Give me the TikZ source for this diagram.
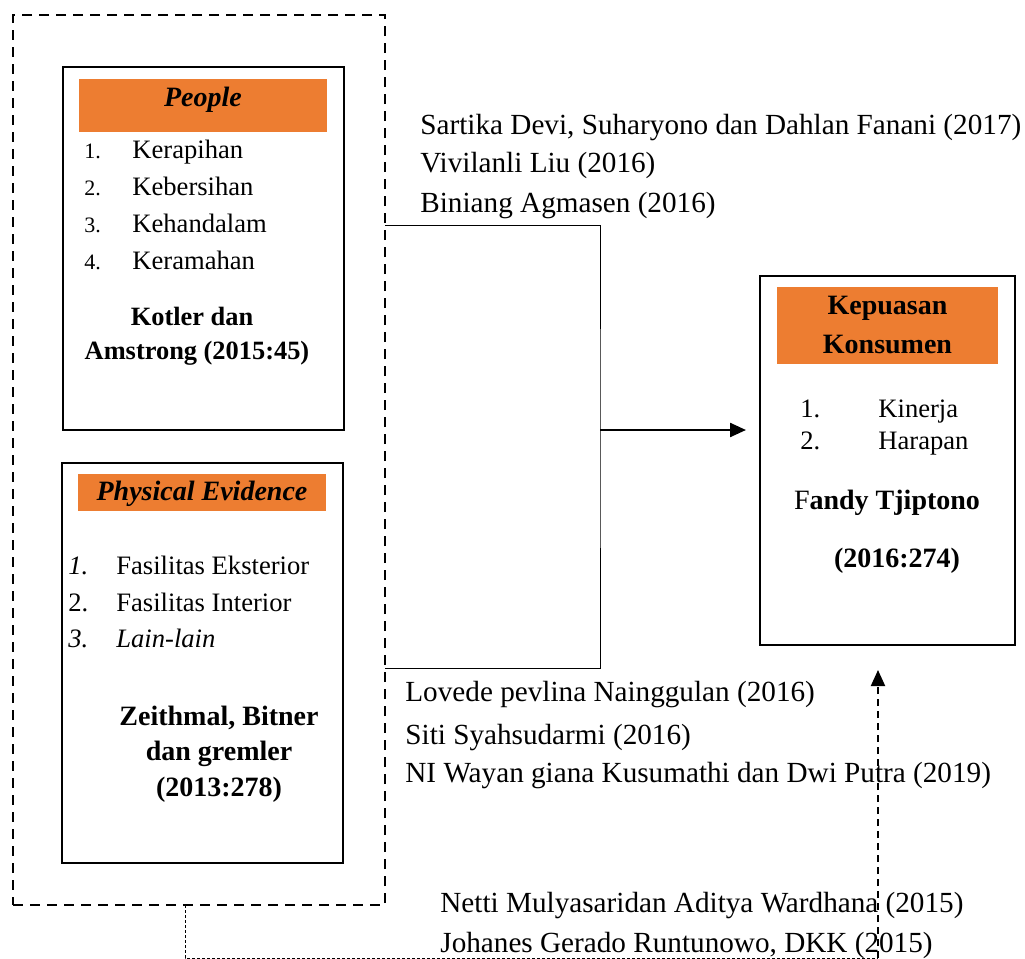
\documentclass[tikz,border=0pt]{standalone}
\usepackage{fontspec}
\setmainfont{Liberation Serif}
\usetikzlibrary{positioning, arrows.meta}
\definecolor{hdrorange}{HTML}{ED7D31}

\begin{document}
\begin{tikzpicture}[x=0.5pt, y=-0.5pt, >={Triangle[length=8pt, width=7pt]}, font=\fontsize{13.3}{15}\selectfont]
        \tikzstyle{box} = [rectangle, draw=black, line width=1pt, inner sep=0pt]
        \tikzstyle{header} = [rectangle, fill=hdrorange, inner sep=0pt]
        \tikzstyle{hdrtext} = [inner sep=0pt, yshift=-1.5pt, font=\fontsize{14}{18}\selectfont\bfseries]
        \tikzstyle{item} = [anchor=west, inner sep=0pt, yshift=-2.5pt, text height=0.69em, text depth=0.22em]
        \tikzstyle{num} = [item, font=\fontsize{11}{13}\selectfont]
        \tikzstyle{src} = [inner sep=0pt, yshift=-1.5pt, font=\fontsize{14}{16}\selectfont\bfseries]
        \tikzstyle{ref} = [item, font=\fontsize{14.6}{16}\selectfont]
        \tikzstyle{group} = [rectangle, draw=black, line width=1pt, dash pattern=on 5pt off 3.5pt, inner sep=0pt]

        \useasboundingbox (0,0) rectangle (1025,959);

        % variabel X
        \node [group, minimum width=186pt, minimum height=445pt] (grp) at (199,460) {};

        \node [box, minimum width=140.5pt, minimum height=181.5pt] (people) at (203.5,248.5) {};
        \node [header, minimum width=124pt, minimum height=26.5pt] (peoplehdr) at (203,105.5) {};
        \node [hdrtext] at (203,97) {\textit{People}};
        \node [num] at (84,149) {1.};  \node [item] at (132,149) {Kerapihan};
        \node [num] at (84,186) {2.};  \node [item] at (132,186) {Kebersihan};
        \node [num] at (84,223) {3.};  \node [item] at (132,223) {Kehandalam};
        \node [num] at (84,260) {4.};  \node [item] at (132,260) {Keramahan};
        \node [src, font=\fontsize{13.2}{16}\selectfont\bfseries] at (192,313) {Kotler dan};
        \node [src, font=\fontsize{13.2}{16}\selectfont\bfseries] at (197,350) {Amstrong (2015:45)};

        \node [box, minimum width=140.5pt, minimum height=200pt] (physical) at (202.5,663) {};
        \node [header, minimum width=124pt, minimum height=18.5pt] (physicalhdr) at (202,492.5) {};
        \node [hdrtext] at (202,491) {\textit{Physical Evidence}};
        \node [item] at (68,565) {\textit{1.}};  \node [item] at (116,565) {Fasilitas Eksterior};
        \node [item] at (68,602) {2.};           \node [item] at (116,602) {Fasilitas Interior};
        \node [item] at (68,638) {\textit{3.}};  \node [item] at (116,638) {\textit{Lain-lain}};
        \node [src] at (219,715) {Zeithmal, Bitner};
        \node [src] at (219,751) {dan gremler};
        \node [src] at (219,787) {(2013:278)};

        % variabel Y
        \node [box, minimum width=127.5pt, minimum height=184.5pt] (kepuasan) at (887.5,460.5) {};
        \node [header, minimum width=110.5pt, minimum height=38.5pt] (kepuasanhdr) at (887.5,325.5) {};
        \node [hdrtext] at (887.5,305) {Kepuasan};
        \node [hdrtext] at (887.5,342) {Konsumen};
        \node [item] at (800,408) {1.};  \node [item] at (878,408) {Kinerja};
        \node [item] at (800,440) {2.};  \node [item] at (878,440) {Harapan};
        \node [src] at (887,500) {\textmd{F}andy Tjiptono};
        \node [src] at (897,558) {(2016:274)};

        % penelitian terdahulu
        \node [ref] at (420,125) {Sartika Devi, Suharyono dan Dahlan Fanani (2017)};
        \node [ref] at (420,163) {Vivilanli Liu (2016)};
        \node [ref] at (420,203) {Biniang Agmasen (2016)};
        \node [ref] at (405,692) {Lovede pevlina Nainggulan (2016)};
        \node [ref] at (405,735) {Siti Syahsudarmi (2016)};
        \node [ref] at (405,773) {NI Wayan giana Kusumathi dan Dwi Putra (2019)};
        \node [ref] at (440,903) {Netti Mulyasaridan Aditya Wardhana (2015)};
        \node [ref] at (440,943) {Johanes Gerado Runtunowo, DKK (2015)};

        \coordinate (bra) at (385,225);
        \coordinate (brb) at (385,668);
        \coordinate (brc) at (600,430);
        \coordinate (grpfoot) at (185,905);
        \coordinate (yfoot) at (878,958);

        \draw [line width=0.5pt] (bra) -| (brc) |- (brb);
        \draw [->, line width=1.2pt, shorten >=6.5pt] (brc) -- (kepuasan.west |- brc);
        \draw [line width=0.5pt, dash pattern=on 1.5pt off 1pt] (grpfoot) |- (yfoot);
        \draw [->, line width=1pt, dash pattern=on 3.5pt off 2.5pt, shorten >=12pt] (yfoot) -- (yfoot |- kepuasan.south);

    \end{tikzpicture}
\end{document}
